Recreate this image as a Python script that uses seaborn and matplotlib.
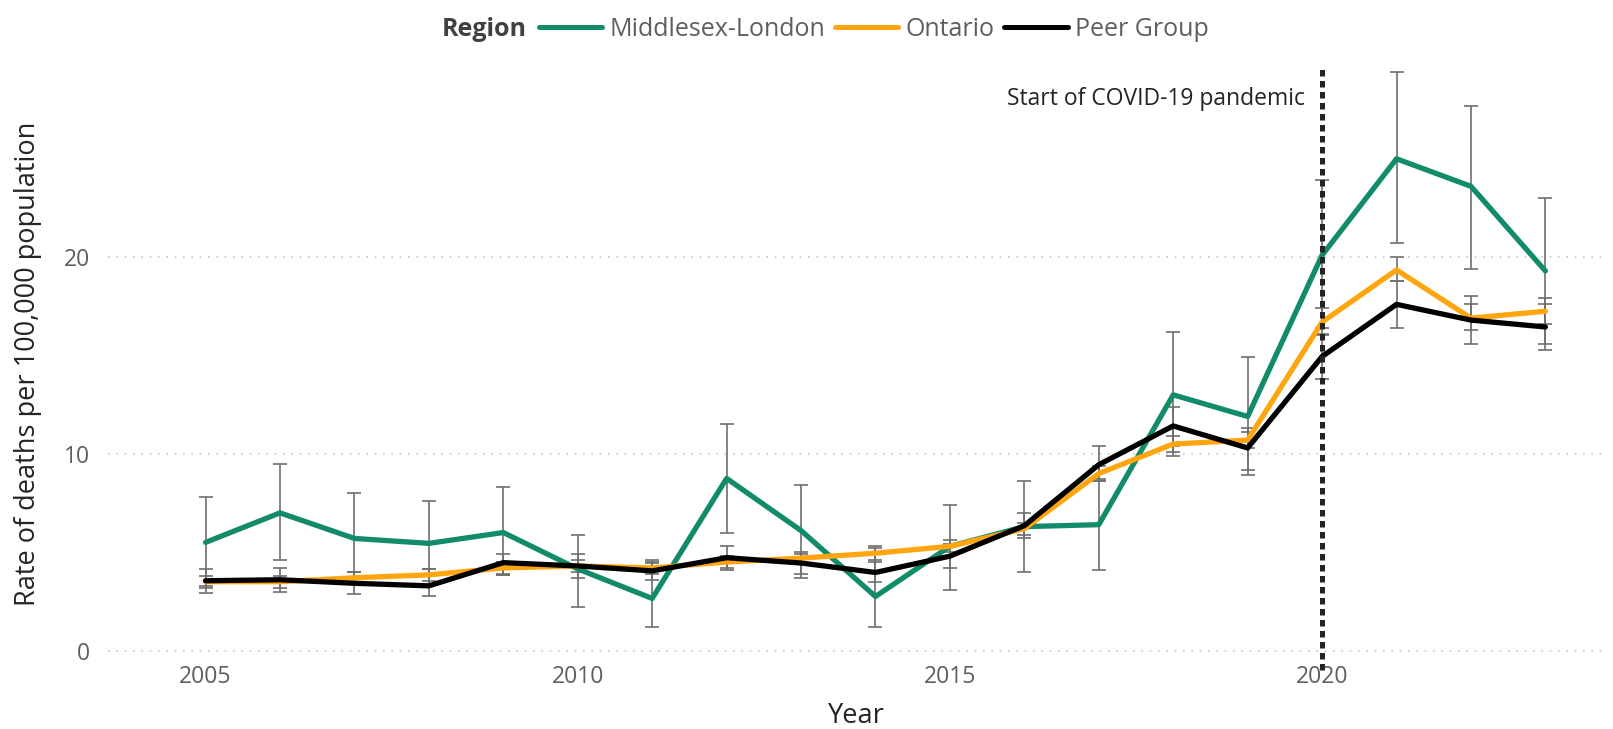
import numpy as np
import pandas as pd
import matplotlib
matplotlib.use("Agg")
import matplotlib.pyplot as plt
import seaborn as sns
from matplotlib.lines import Line2D

years = list(range(2005, 2024))
regions = ["Middlesex-London", "Ontario", "Peer Group"]

ml_rate = [5.5, 7.0, 5.7, 5.45, 6.0, 4.15, 2.65, 8.75, 6.1, 2.75, 5.3, 6.3, 6.4, 13.0, 11.9, 20.1, 25.0, 23.6, 19.3]
ml_low  = [3.3, 4.6, 3.5, 3.35, 3.85, 2.2, 1.2, 6.0, 3.7, 1.2, 3.1, 4.0, 4.1, 9.9, 8.9, 16.4, 20.7, 19.4, 15.6]
ml_high = [7.8, 9.5, 8.0, 7.6, 8.3, 5.9, 4.6, 11.5, 8.4, 5.2, 7.4, 8.6, 8.6, 16.2, 14.9, 23.9, 29.4, 27.7, 23.0]

on_rate = [3.5, 3.5, 3.7, 3.85, 4.2, 4.3, 4.2, 4.5, 4.7, 4.95, 5.3, 6.2, 9.0, 10.5, 10.7, 16.7, 19.35, 16.9, 17.25]
on_low  = [3.2, 3.2, 3.4, 3.55, 3.9, 4.0, 3.9, 4.2, 4.4, 4.6, 5.0, 5.9, 8.7, 10.1, 10.3, 16.05, 18.8, 16.3, 16.6]
on_high = [3.8, 3.8, 4.0, 4.15, 4.5, 4.6, 4.5, 4.8, 5.0, 5.3, 5.6, 6.5, 9.4, 10.9, 11.1, 17.4, 20.0, 17.6, 17.9]

pg_rate = [3.55, 3.6, 3.42, 3.29, 4.47, 4.3, 4.05, 4.72, 4.45, 3.97, 4.8, 6.35, 9.45, 11.42, 10.3, 14.95, 17.6, 16.8, 16.45]
pg_low  = [2.95, 3.0, 2.87, 2.76, 3.85, 3.7, 3.6, 4.1, 3.9, 3.5, 4.2, 5.7, 8.6, 10.4, 9.2, 13.8, 16.4, 15.6, 15.3]
pg_high = [4.17, 4.2, 4.0, 4.17, 4.9, 4.9, 4.45, 5.3, 4.9, 4.5, 5.4, 7.0, 10.4, 12.4, 11.3, 16.1, 18.8, 18.0, 17.6]

colors = {"Middlesex-London": "#118B6A", "Ontario": "#FFA50F", "Peer Group": "#000000"}
text_grey = "#605E5C"

rows = []
for reg, r, lo, hi in [("Middlesex-London", ml_rate, ml_low, ml_high),
                       ("Ontario", on_rate, on_low, on_high),
                       ("Peer Group", pg_rate, pg_low, pg_high)]:
    for y, v, l, h in zip(years, r, lo, hi):
        rows.append({"Year": y, "Rate": v, "Low": l, "High": h, "Region": reg})
df = pd.DataFrame(rows)

sns.set_theme(style="white")
plt.rcParams['font.family'] = ['Open Sans', 'DejaVu Sans']

fig = plt.figure(figsize=(16.13, 7.29), dpi=100)
ax = fig.add_axes([0.067, 0.0968, 0.928, 0.8095])

# error bars
for reg in regions:
    d = df[df.Region == reg]
    ax.errorbar(d.Year, d.Rate, yerr=[d.Rate - d.Low, d.High - d.Rate],
                fmt="none", ecolor="#6E6E6E", elinewidth=1.2, capsize=5,
                capthick=1.2, zorder=2)

sns.lineplot(data=df, x="Year", y="Rate", hue="Region", hue_order=regions,
             palette=colors, linewidth=3.8, ax=ax, legend=False, zorder=3)

ax.set_xlim(2003.69, 2023.8)
ax.set_ylim(-0.4, 29.6)
ax.set_yticks([0, 10, 20])
ax.set_xticks([2005, 2010, 2015, 2020])
ax.grid(axis="y", color="#C8C8C8", linestyle=(0, (1, 4)), linewidth=1.2)
ax.grid(axis="x", visible=False)
for s in ax.spines.values():
    s.set_visible(False)
ax.tick_params(axis="both", colors=text_grey, labelsize=16.5, length=0)
ax.tick_params(axis="x", pad=5)
ax.tick_params(axis="y", pad=13)
ax.set_xlabel("Year", fontsize=19.5, color="#252423")
ax.set_ylabel("Rate of deaths per 100,000 population", fontsize=19.5, color="#252423")
ax.xaxis.set_label_coords(0.5, -0.0976)
ax.xaxis.label.set_va("center")
ax.yaxis.set_label_coords(-0.0534, 0.5)
ax.yaxis.label.set_va("center")

# COVID line
ax.axvline(2020, color="#252423", linestyle=(0, (1.3, 0.9)), linewidth=3.6, zorder=4,
           ymin=-0.02, ymax=1.0, clip_on=False)
ax.annotate("Start of COVID-19 pandemic", xy=(2020, 0.948), xycoords=("data", "axes fraction"),
            xytext=(-12, 0), textcoords="offset points", ha="right", va="center",
            fontsize=16.5, color="#252423")

# legend
handles = [Line2D([0], [0], color=colors[r], linewidth=3.6) for r in regions]
fig.text(0.274, 0.960, "Region", fontsize=18, fontweight="bold", color="#404040",
         ha="left", va="center")
leg = fig.legend(handles, regions, loc="center left", bbox_to_anchor=(0.334, 0.960),
                 ncol=3, frameon=False, fontsize=18, handlelength=2.55,
                 handletextpad=0.28, columnspacing=0.38, borderaxespad=0, borderpad=0)
for t in leg.get_texts():
    t.set_color(text_grey)

fig.savefig("out.png", dpi=100)
